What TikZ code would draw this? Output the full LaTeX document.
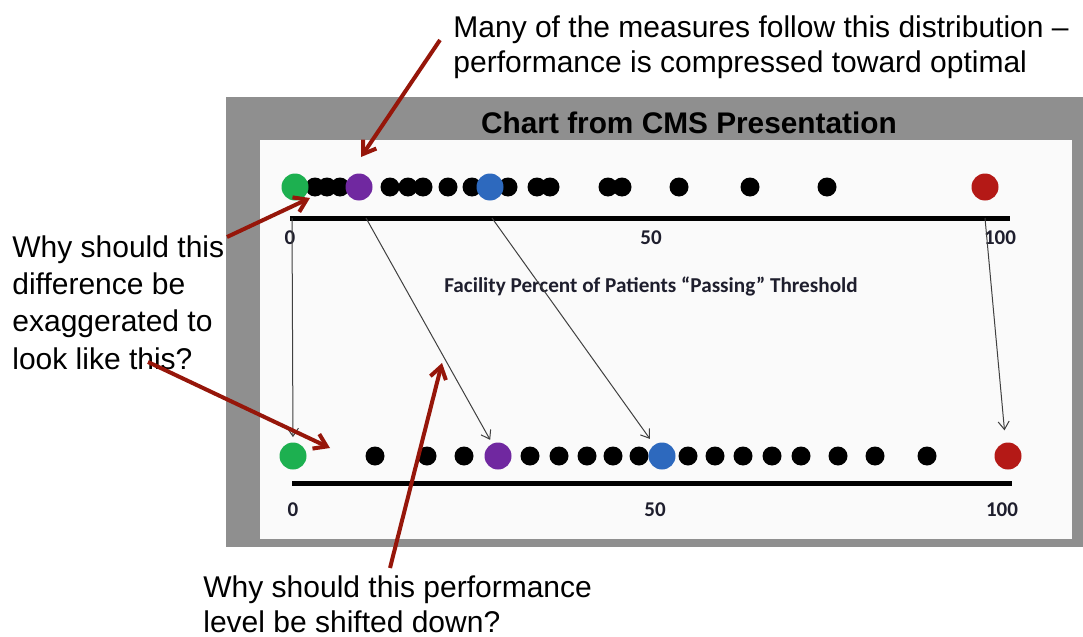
\documentclass[tikz,border=0pt]{standalone}
\usepackage{fontspec}
\setmainfont{Liberation Sans}
\newfontfamily\chartfont{Carlito}
\usetikzlibrary{arrows.meta}
\definecolor{cmsframe}{RGB}{143,143,143}
\definecolor{cmspanel}{RGB}{250,250,250}
\definecolor{cmsgreen}{RGB}{29,176,80}
\definecolor{cmspurple}{RGB}{112,40,160}
\definecolor{cmsblue}{RGB}{45,105,190}
\definecolor{cmsred}{RGB}{180,25,22}
\definecolor{cmsnote}{RGB}{150,22,10}
\definecolor{cmsnum}{RGB}{30,30,45}
\tikzset{
  cmsnote/.style={font=\fontsize{15}{17.5}\selectfont, text=black, align=left, inner sep=0pt},
  cmsdot/.style={circle, fill=black, inner sep=0pt, minimum size=9.5pt},
  cmsbig/.style={circle, fill=#1, inner sep=0pt, minimum size=13.5pt},
  cmsaxis/.style={line width=2.5pt, draw=black},
  cmsnum/.style={font=\chartfont\bfseries\fontsize{10.5}{12}\selectfont, text=cmsnum, inner sep=0pt},
  cmsmap/.style={-{Straight Barb[length=4pt,width=5.5pt]}, line width=0.5pt, draw=black!75},
  cmsarr/.style={-{Straight Barb[length=6pt,width=8pt]}, line width=2pt, draw=cmsnote},
}
\begin{document}
\begin{tikzpicture}[x=0.5pt, y=-0.5pt]
    \useasboundingbox (0,0) rectangle (1083,637);

    % Chart frame
    \fill[cmsframe] (226,97) rectangle (1083,547);
    \fill[cmspanel] (260,140) rectangle (1072,539);
    \node[font=\bfseries\fontsize{14.9}{18}\selectfont] (title) at (689,123) {Chart from CMS Presentation};

    % Top row
    \draw[cmsaxis] (290,218) -- (1010,218);
    \foreach \x in {315,327,340,390,408,423,448,472,508,537,550,608,622,679,750,827}
      \node[cmsdot] (t\x) at (\x,187) {};
    \node[cmsbig=cmsgreen] (tg) at (295,187) {};
    \node[cmsbig=cmspurple] (tp) at (359,187) {};
    \node[cmsbig=cmsblue] (tb) at (490,187) {};
    \node[cmsbig=cmsred] (tr) at (985,187) {};
    \node[cmsnum] (t0) at (290,238) {0};
    \node[cmsnum] (t50) at (651,238) {50};
    \node[cmsnum] (t100) at (1000,238) {100};
    \node[font=\chartfont\bfseries\fontsize{10.6}{12}\selectfont, text=cmsnum] (cap) at (651,286)
      {Facility Percent of Patients “Passing” Threshold};

    % Bottom row
    \draw[cmsaxis] (292,483) -- (1012,483);
    \foreach \x in {375,427,464,530,559,587,613,639,688,715,743,772,801,838,875,927}
      \node[cmsdot] (b\x) at (\x,456) {};
    \node[cmsbig=cmsgreen] (bg) at (293,456) {};
    \node[cmsbig=cmspurple] (bp) at (498,456) {};
    \node[cmsbig=cmsblue] (bb) at (662,456) {};
    \node[cmsbig=cmsred] (br) at (1008,456) {};
    \node[cmsnum] (b0) at (293,510) {0};
    \node[cmsnum] (b50) at (655,510) {50};
    \node[cmsnum] (b100) at (1002,510) {100};

    % Mapping between the two scales
    \coordinate (sg) at (292,218);
    \coordinate (sp) at (366,218);
    \coordinate (sb) at (492,218);
    \coordinate (sr) at (985,218);
    \draw[cmsmap, shorten >=2.5pt] (sg) -- (bg.north);
    \draw[cmsmap, shorten >=2pt] (sp) -- (bp.115);
    \draw[cmsmap, shorten >=3.5pt] (sb) -- (bb.125);
    \draw[cmsmap, shorten >=6pt] (sr) -- (br.100);

    % Notes
    \node[cmsnote, anchor=north west] (topnote) at (453,15)
      {Many of the measures follow this distribution –\\performance is compressed toward optimal};
    \node[cmsnote, font=\fontsize{15}{18.7}\selectfont, anchor=north west] (leftnote) at (12,235)
      {Why should this\\difference be\\exaggerated to\\look like this?};
    \node[cmsnote, anchor=north west] (botnote) at (203,575)
      {Why should this performance\\level be shifted down?};

    \coordinate (q1) at (440,40);   \coordinate (p1) at (361,157);
    \coordinate (q2) at (227,237);  \coordinate (p2) at (310,198);
    \coordinate (q3) at (148,362);  \coordinate (p3) at (330,448);
    \coordinate (q4) at (390,568);  \coordinate (p4) at (442,363);
    \draw[cmsarr] (q1) -- (p1);
    \draw[cmsarr] (q2) -- (p2);
    \draw[cmsarr] (q3) -- (p3);
    \draw[cmsarr] (q4) -- (p4);
\end{tikzpicture}
\end{document}
